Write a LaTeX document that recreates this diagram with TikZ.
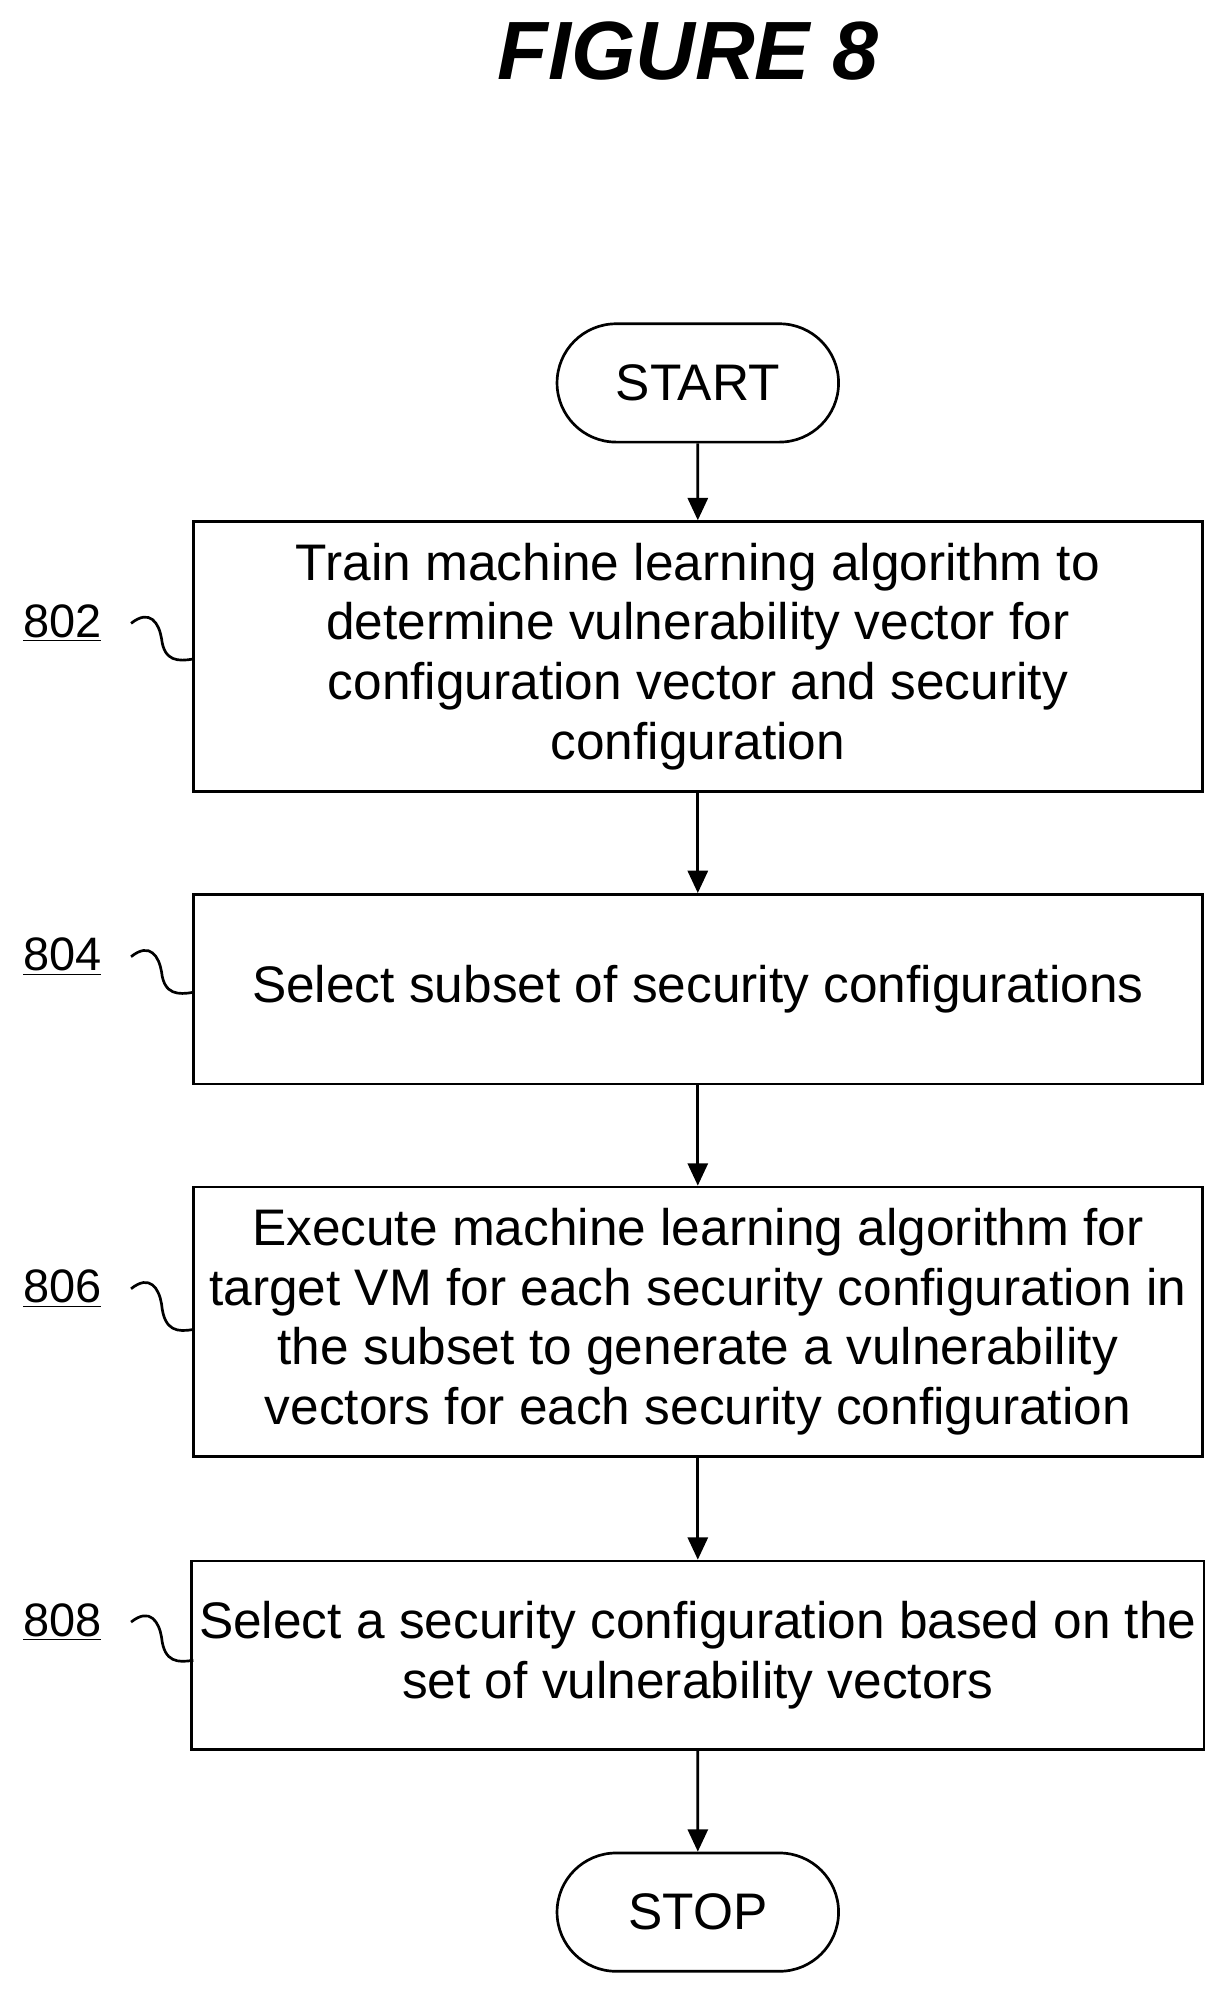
\documentclass[tikz,border=0pt]{standalone}
\usepackage{fontspec}
\setmainfont{Liberation Sans}
\usetikzlibrary{arrows.meta,shapes.misc}
\begin{document}
\begin{tikzpicture}[x=0.02cm,y=-0.02cm,
 box/.style={draw,line width=1.2pt,minimum width=793*0.02cm,align=center,font=\fontsize{23}{26.7}\selectfont},
 term/.style={draw,line width=1.2pt,rounded rectangle,minimum width=233*0.02cm,minimum height=93*0.02cm,font=\fontsize{23}{26.7}\selectfont},
 arr/.style={line width=1.2pt,-{Triangle[length=10pt,width=9pt]}},
 lab/.style={font=\fontsize{21}{24}\selectfont},
 sq/.style={line width=1.2pt}]
\useasboundingbox (0,0) rectangle (960,1565);
\node[font=\fontsize{37}{40}\selectfont\bfseries\itshape] (title) at (541,40) {FIGURE 8};
\node[term] (start) at (548.5,301) {START};
\node[box,minimum height=212*0.02cm] (b802) at (548.5,516) {Train machine learning algorithm to\\determine vulnerability vector for\\configuration vector and security\\configuration};
\node[box,minimum height=149*0.02cm] (b804) at (548.5,777.5) {Select subset of security configurations};
\node[box,minimum height=212*0.02cm] (b806) at (548.5,1039) {Execute machine learning algorithm for\\target VM for each security configuration in\\the subset to generate a vulnerability\\vectors for each security configuration};
\node[box,minimum height=148*0.02cm] (b808) at (548.5,1301) {Select a security configuration based on the\\set of vulnerability vectors};
\node[term] (stop) at (548.5,1503) {STOP};
\draw[arr] (start) -- (b802);
\draw[arr] (b802) -- (b804);
\draw[arr] (b804) -- (b806);
\draw[arr] (b806) -- (b808);
\draw[arr] (b808) -- (stop);
\foreach \n/\y/\t in {802/490/518, 804/752/780, 806/1013/1045, 808/1275/1305}{
 \node[lab] (l\n) at (49,\y) {\underline{\n}};
 \coordinate (e\n) at (152,\t);
 \draw[sq] (103,\y) .. controls (118,\y-12) and (125,\y) .. (127,\y+12) .. controls (129,\t+2) and (140,\t+2) .. (e\n);
}
\end{tikzpicture}
\end{document}
